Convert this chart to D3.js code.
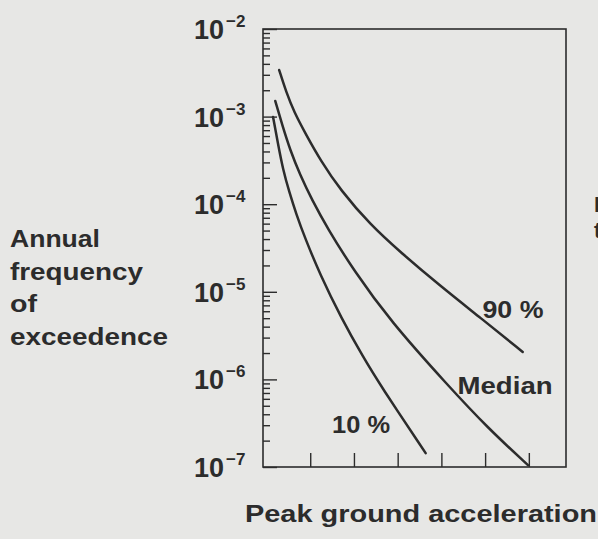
<!DOCTYPE html>
<html>
<head>
<meta charset="utf-8">
<script src="https://cdn.jsdelivr.net/npm/d3@7"></script>
<style>
  html, body { margin: 0; padding: 0; background: #e7e7e5; }
  svg { display: block; font-family: "Liberation Sans", Arial, sans-serif; }
</style>
</head>
<body>
<div id="chart"></div>
<script>
// curves: peak ground acceleration (g) vs annual frequency
const accel90 = [0.029, 0.045, 0.063, 0.091, 0.123, 0.169, 0.238, 0.306, 0.398, 0.490, 0.586];
const freq90 = [3.4e-3, 1.91e-3, 1.13e-3, 6.17e-4, 3.2e-4, 1.45e-4, 5.79e-5, 2.84e-5, 1.16e-5, 5.02e-6, 2.06e-6];

const accelMed = [0.020, 0.036, 0.054, 0.077, 0.104, 0.139, 0.199, 0.283, 0.414, 0.506, 0.598];
const freqMed = [1.51e-3, 8.02e-4, 4.16e-4, 2.15e-4, 1.12e-4, 5.35e-5, 1.77e-5, 4.65e-6, 8.63e-7, 2.79e-7, 1.05e-7];

const accel10 = [0.015, 0.026, 0.038, 0.052, 0.068, 0.088, 0.123, 0.171, 0.221, 0.260, 0.364];
const freq10 = [9.9e-4, 5.0e-4, 2.45e-4, 1.38e-4, 7.73e-5, 4.11e-5, 1.56e-5, 5.02e-6, 1.8e-6, 8.63e-7, 1.44e-7];

const curveNames = ["90 %", "Median", "10 %"];
const yDecades = [-7, -6, -5, -4, -3, -2];
const xTicks = [0.1, 0.2, 0.3, 0.4, 0.5, 0.6];

const width = 598, height = 539;
const margin = { top: 29, right: 32, bottom: 72, left: 263 };
const ink = "#2c2c2c";

const svg = d3.select("#chart").append("svg")
  .attr("width", width)
  .attr("height", height);

const x = d3.scaleLinear()
  .domain([-0.008, 0.685])
  .range([margin.left, width - margin.right]);

const y = d3.scaleLog()
  .domain([1e-7, 1e-2])
  .range([height - margin.bottom, margin.top]);

// frame
svg.append("rect")
  .attr("x", x.range()[0])
  .attr("y", y.range()[1])
  .attr("width", x.range()[1] - x.range()[0])
  .attr("height", y.range()[0] - y.range()[1])
  .attr("fill", "none")
  .attr("stroke", ink)
  .attr("stroke-width", 1.6);

// log ticks on the left, drawn inward
const minor = [];
yDecades.slice(0, -1).forEach(e => {
  for (let m = 2; m <= 9; m++) minor.push(m * Math.pow(10, e));
});

svg.append("g")
  .attr("transform", `translate(${margin.left},0)`)
  .call(d3.axisRight(y).tickValues(minor).tickSize(7).tickFormat(""))
  .call(g => g.select(".domain").remove())
  .call(g => g.selectAll("line").attr("stroke", ink).attr("stroke-width", 1.4));

svg.append("g")
  .attr("transform", `translate(${margin.left},0)`)
  .call(d3.axisRight(y).tickValues(yDecades.map(e => Math.pow(10, e))).tickSize(14).tickFormat(""))
  .call(g => g.select(".domain").remove())
  .call(g => g.selectAll("line").attr("stroke", ink).attr("stroke-width", 1.4));

// bottom ticks pointing up
svg.append("g")
  .attr("transform", `translate(0,${height - margin.bottom})`)
  .call(d3.axisTop(x).tickValues(xTicks).tickSize(14).tickFormat(""))
  .call(g => g.select(".domain").remove())
  .call(g => g.selectAll("line").attr("stroke", ink).attr("stroke-width", 1.4));

// y labels as 10 with a superscript exponent
const ylab = svg.append("g").selectAll("text")
  .data(yDecades)
  .join("text")
  .attr("x", 194)
  .attr("y", e => y(Math.pow(10, e)) + 10)
  .attr("fill", ink)
  .attr("font-size", 27)
  .attr("font-weight", "bold");
ylab.append("tspan").text("10");
ylab.append("tspan")
  .attr("dy", -12)
  .attr("dx", 2)
  .attr("font-size", 17)
  .text(e => "\u2212" + Math.abs(e));

// curves
const line = d3.line()
  .x(d => x(d[0]))
  .y(d => y(d[1]))
  .curve(d3.curveBasis);

const series = [
  d3.zip(accel90, freq90),
  d3.zip(accelMed, freqMed),
  d3.zip(accel10, freq10)
];

svg.append("g").selectAll("path")
  .data(series)
  .join("path")
  .attr("d", line)
  .attr("fill", "none")
  .attr("stroke", ink)
  .attr("stroke-width", 2.5)
  .attr("stroke-linecap", "round");

// curve labels
const labelAt = [[0.494, 5.0e-6, 61], [0.437, 6.8e-7, 95], [0.150, 2.44e-7, 58]];
svg.append("g").selectAll("text")
  .data(curveNames)
  .join("text")
  .attr("x", (d, i) => x(labelAt[i][0]))
  .attr("y", (d, i) => y(labelAt[i][1]))
  .attr("textLength", (d, i) => labelAt[i][2])
  .attr("lengthAdjust", "spacingAndGlyphs")
  .attr("fill", ink)
  .attr("font-size", 23)
  .attr("font-weight", "bold")
  .text(d => d);

// axis titles
const yTitle = ["Annual", "frequency", "of", "exceedence"];
const yTitleLen = [90, 133, 27, 158];
svg.append("g").selectAll("text")
  .data(yTitle)
  .join("text")
  .attr("x", 10)
  .attr("y", (d, i) => 247 + i * 32.5)
  .attr("textLength", (d, i) => yTitleLen[i])
  .attr("lengthAdjust", "spacingAndGlyphs")
  .attr("fill", ink)
  .attr("font-size", 23)
  .attr("font-weight", "bold")
  .text(d => d);

svg.append("text")
  .attr("x", 245)
  .attr("y", 522)
  .attr("textLength", 352)
  .attr("lengthAdjust", "spacingAndGlyphs")
  .attr("fill", ink)
  .attr("font-size", 23)
  .attr("font-weight", "bold")
  .text("Peak ground acceleration");

// edge of the neighbouring column, cut off by the page
svg.append("text").attr("x", 594).attr("y", 212)
  .attr("fill", ink).attr("font-size", 22).attr("font-weight", "bold").text("I");
svg.append("text").attr("x", 594).attr("y", 238)
  .attr("fill", ink).attr("font-size", 22).attr("font-weight", "bold").text("t");
</script>
</body>
</html>
